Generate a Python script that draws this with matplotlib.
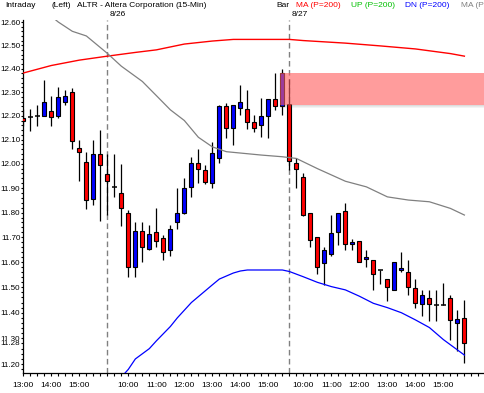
import numpy as np
import matplotlib
matplotlib.use('Agg')
import matplotlib.pyplot as plt
import matplotlib.transforms as mtransforms
from matplotlib.patches import Rectangle
from matplotlib.ticker import FixedLocator, FixedFormatter, MultipleLocator, NullFormatter

# 15-min bars, 8/25 13:00 .. 8/27 15:45
opens = [12.19, 12.195, 12.20, 12.20, 12.22, 12.20, 12.258, 12.30, 12.067, 12.009,
         11.857, 12.04, 11.958, 11.905, 11.88, 11.797, 11.58, 11.726, 11.654, 11.72,
         11.697, 11.649, 11.76, 11.80, 11.904, 12.005, 11.975, 11.92, 12.025, 12.24,
         12.15, 12.232, 12.228, 12.172, 12.163, 12.20, 12.27, 12.243, 12.248, 12.005,
         11.946, 11.80, 11.70, 11.595, 11.632, 11.72, 11.806, 11.672, 11.685, 11.612,
         11.61, 11.567, 11.534, 11.49, 11.567, 11.56, 11.497, 11.435, 11.458, 11.432,
         11.432, 11.458, 11.36, 11.38]
highs = [12.228, 12.228, 12.245, 12.35, 12.284, 12.32, 12.31, 12.317, 12.098, 12.05,
         12.098, 12.14, 12.04, 12.04, 12.0, 11.81, 11.76, 11.76, 11.75, 11.82,
         11.71, 11.75, 11.90, 11.94, 12.027, 12.06, 11.995, 12.09, 12.245, 12.253,
         12.245, 12.33, 12.308, 12.205, 12.274, 12.27, 12.379, 12.396, 12.357, 12.025,
         11.963, 11.80, 11.70, 11.66, 11.79, 11.80, 11.84, 11.695, 11.685, 11.65,
         11.61, 11.567, 11.534, 11.60, 11.64, 11.609, 11.534, 11.49, 11.49, 11.49,
         11.517, 11.47, 11.41, 11.45]
lows = [12.156, 12.137, 12.156, 12.20, 12.156, 12.19, 12.245, 12.063, 11.927, 11.816,
        11.83, 11.767, 11.79, 11.864, 11.745, 11.54, 11.54, 11.60, 11.65, 11.66,
        11.61, 11.626, 11.733, 11.795, 11.864, 11.92, 11.917, 11.90, 12.003, 12.108,
        12.076, 12.205, 12.145, 12.133, 12.11, 12.108, 12.224, 12.205, 11.974, 11.90,
        11.785, 11.66, 11.555, 11.51, 11.626, 11.67, 11.647, 11.647, 11.60, 11.58,
        11.49, 11.513, 11.447, 11.488, 11.562, 11.47, 11.418, 11.386, 11.366, 11.366,
        11.432, 11.295, 11.25, 11.205]
closes = [12.18, 12.195, 12.20, 12.258, 12.193, 12.278, 12.284, 12.093, 12.05, 11.85,
          12.04, 11.995, 11.93, 11.905, 11.82, 11.58, 11.726, 11.66, 11.712, 11.685,
          11.64, 11.735, 11.80, 11.90, 12.005, 11.978, 11.925, 12.045, 12.24, 12.15,
          12.245, 12.258, 12.172, 12.15, 12.198, 12.27, 12.243, 12.38, 12.01, 11.978,
          11.79, 11.69, 11.58, 11.647, 11.716, 11.80, 11.672, 11.68, 11.60, 11.62,
          11.553, 11.567, 11.50, 11.60, 11.577, 11.50, 11.44, 11.47, 11.435, 11.432,
          11.432, 11.373, 11.377, 11.28]

ma_bars = [0, 4, 8, 12, 16, 19, 23, 27, 30, 38, 40, 46, 51, 56, 61, 63]
ma_vals = [12.381, 12.413, 12.436, 12.453, 12.469, 12.48, 12.505, 12.518, 12.525,
           12.525, 12.52, 12.509, 12.497, 12.484, 12.464, 12.453]

ma2_bars = [4, 5, 7, 9, 12, 14, 17, 19, 21, 23, 25, 27, 29, 34, 37, 39, 42, 46, 49,
            52, 55, 58, 61, 63]
ma2_vals = [12.625, 12.60, 12.56, 12.54, 12.465, 12.41, 12.345, 12.285, 12.225, 12.18,
            12.11, 12.07, 12.05, 12.036, 12.029, 12.022, 11.98, 11.928, 11.905, 11.864,
            11.851, 11.844, 11.817, 11.79]

dn_bars = [14, 15, 16, 18, 19, 21, 22, 24, 27, 28, 30, 31, 32, 37, 38, 40, 42, 44, 46,
           48, 50, 52, 54, 56, 58, 60, 62, 63]
dn_vals = [11.15, 11.18, 11.22, 11.26, 11.29, 11.346, 11.38, 11.44, 11.51, 11.533,
           11.557, 11.565, 11.569, 11.569, 11.563, 11.542, 11.52, 11.503, 11.49, 11.465,
           11.437, 11.42, 11.40, 11.372, 11.342, 11.295, 11.255, 11.235]

tick_bars = [0, 4, 8, 15, 19, 23, 27, 31, 35, 40, 44, 48, 52, 56, 60]
tick_labels = ['13:00', '14:00', '15:00', '10:00', '11:00', '12:00', '13:00', '14:00',
               '15:00', '10:00', '11:00', '12:00', '13:00', '14:00', '15:00']
day_bars = [12, 38]
day_labels = ['8/26', '8/27']

zone_start = 36.67
zone_lo = 12.245
zone_hi = 12.38

plt.rcParams['font.family'] = ['Liberation Sans', 'DejaVu Sans']
plt.rcParams['font.size'] = 6

W, H = 484, 393
fig = plt.figure(figsize=(W / 100, H / 100), dpi=100)
ax = fig.add_axes([22.7 / W, 20.3 / H, 1 - 22.7 / W, (372.7 - 20) / H])
ax.set_yscale('log')
ax.set_ylim(11.167, 12.609)
ax.set_xlim(-0.09, 65.8)

for i in range(len(opens)):
    o, h, l, c = opens[i], highs[i], lows[i], closes[i]
    ax.vlines(i, l, h, color='k', lw=0.9, zorder=2)
    if o == c:
        ax.hlines(c, i - 0.33, i + 0.33, color='k', lw=1.1, zorder=3)
    else:
        col = '#0000ff' if c > o else '#ff0000'
        ax.add_patch(Rectangle((i - 0.3, min(o, c)), 0.6, abs(c - o),
                               facecolor=col, edgecolor='k', lw=0.8, zorder=3))

ax.plot(ma_bars, ma_vals, color='#ff0000', lw=1, zorder=4)
ax.plot(ma2_bars, ma2_vals, color='#808080', lw=0.9, zorder=4)
ax.plot(dn_bars, dn_vals, color='#0000ff', lw=0.9, zorder=4)

for b in day_bars:
    ax.axvline(b, color='#808080', lw=1, dashes=(4, 2.5), zorder=1)

# pink zone with a soft shadow under it
ax.add_patch(Rectangle((zone_start, zone_lo), 70, zone_hi - zone_lo,
                       facecolor='#ff6060', alpha=0.62, lw=0, zorder=5))
for k, a in enumerate([0.22, 0.14, 0.07]):
    y0 = zone_lo * (1 - 0.00035 * (k + 1))
    y1 = zone_lo * (1 - 0.00035 * k)
    ax.add_patch(Rectangle((zone_start, y0), 70, y1 - y0,
                           facecolor='#606060', alpha=a, lw=0, zorder=5))

yt = [round(11.2 + 0.1 * k, 2) for k in range(15)]
ax.yaxis.set_major_locator(FixedLocator(yt + [closes[-1]]))
ax.yaxis.set_major_formatter(FixedFormatter(['%.2f' % v for v in yt] + ['']))
ax.yaxis.set_minor_locator(MultipleLocator(0.02))
ax.yaxis.set_minor_formatter(NullFormatter())
ax.tick_params(axis='y', which='major', length=1.5, width=0.8, pad=0.2, labelsize=5.8)
ax.tick_params(axis='y', which='minor', length=1.2, width=0.8)

ax.set_xticks(range(66))
lab = dict(zip(tick_bars, tick_labels))
ax.set_xticklabels([lab.get(i, '') for i in range(66)])
ax.tick_params(axis='x', length=2.5, width=0.8, pad=4.5)

for s in ['top', 'right']:
    ax.spines[s].set_visible(False)
for s in ['left', 'bottom']:
    ax.spines[s].set_linewidth(0.9)

ax.annotate('%.2f' % closes[-1], xy=(0, closes[-1]), xycoords=('axes fraction', 'data'),
            xytext=(-1.7, 0), textcoords='offset points', ha='right', va='center',
            fontsize=5.8, bbox=dict(facecolor='white', edgecolor='none', pad=0.3),
            zorder=6, annotation_clip=False)

tr = mtransforms.blended_transform_factory(ax.transData, fig.transFigure)
for b, t in zip(day_bars, day_labels):
    ax.text(b + 0.35, 1 - 14.2 / H, t, transform=tr, ha='left', va='center')

ty = 1 - 5.5 / H
heads = [(5, 'Intraday', 'k'), (51, '(Left)', 'k'), (77, 'ALTR - Altera Corporation', 'k'),
         (175, '(15-Min)', 'k'), (276, 'Bar', 'k'), (296, 'MA (P=200)', '#ff0000'),
         (351, 'UP (P=200)', '#00c000'), (405, 'DN (P=200)', '#0000ff'),
         (461, 'MA (P=200)', '#808080')]
for x, t, c in heads:
    fig.text(x / W, ty, t, color=c, ha='left', va='center')

fig.savefig('out.png', dpi=100)
